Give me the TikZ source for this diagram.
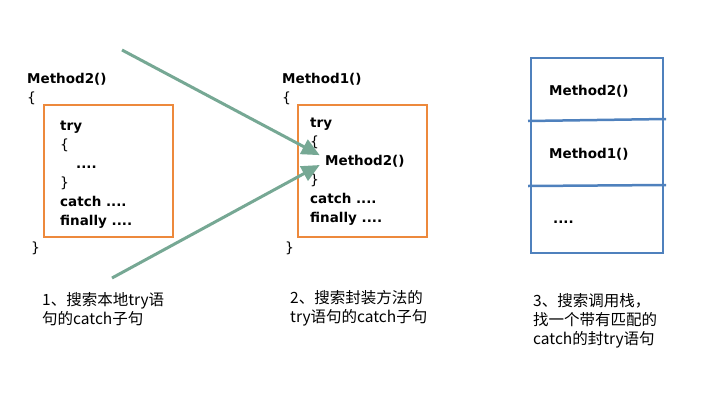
\documentclass[tikz,border=0pt]{standalone}
\usepackage{fontspec}
\setmainfont{DejaVu Sans}
\newfontfamily\cjk{Noto Sans CJK SC}
\usetikzlibrary{
  arrows.meta,
  calc,
  positioning
}
\definecolor{boxorange}{RGB}{237,137,60}
\definecolor{stackblue}{RGB}{79,129,189}
\definecolor{arrowgreen}{RGB}{118,168,148}

\begin{document}
\begin{tikzpicture}[x=1pt, y=-1pt, font=\fontsize{13.5}{16}\selectfont\bfseries,
  code/.style={anchor=base west, inner sep=0pt},
  brace/.style={anchor=base west, inner sep=0pt, font=\fontsize{14}{16}\selectfont\mdseries},
  note/.style={anchor=base west, inner sep=0pt, font=\cjk\mdseries\fontsize{15.5}{17}\selectfont},
  trybox/.style={draw=boxorange, line width=1.5pt},
  callarrow/.style={draw=arrowgreen, line width=3pt, -{Triangle[length=18pt,width=16pt]}, shorten >=6pt}]
  \useasboundingbox (0,0) rectangle (719,407);

  % Method2: local try block
  \node[code] (m2head) at (27,83) {Method2()};
  \node[brace] (m2open) at (27,102) {\{};
  \draw[trybox] (44,105) rectangle (173,237);
  \node[code] (try1) at (60,130) {try};
  \node[brace] (open1) at (60,149) {\{};
  \node[code] (dots1) at (76,168) {....};
  \node[brace] (close1) at (60,187) {\}};
  \node[code] (catch1) at (60,206) {catch ....};
  \node[code] (fin1) at (60,225) {finally ....};
  \node[brace] (m2close) at (31,252) {\}};

  % Method1: enclosing try block
  \node[code] (m1head) at (282,83) {Method1()};
  \node[brace] (m1open) at (282,102) {\{};
  \draw[trybox] (298,105) rectangle (427,237);
  \node[code] (try2) at (310,127) {try};
  \node[brace] (open2) at (310,146) {\{};
  \node[code] (m2call) at (325,165) {Method2()};
  \node[brace] (close2) at (310,184) {\}};
  \node[code] (catch2) at (310,203) {catch ....};
  \node[code] (fin2) at (310,222) {finally ....};
  \node[brace] (m1close) at (285,252) {\}};

  % Arrows into the call
  \coordinate (from1) at (122,50);
  \coordinate (from2) at (112,278);
  \draw[callarrow] (from1) -- (m2call.176);
  \draw[callarrow] (from2) -- (m2call.182);

  % Call stack
  \draw[stackblue, line width=1.5pt] (531,58) rectangle (663,253);
  \draw[stackblue, line width=2.5pt] (528,121) -- (666,119);
  \draw[stackblue, line width=2.5pt] (528,186) -- (666,185);
  \node[code] (frame2) at (549,95) {Method2()};
  \node[code] (frame1) at (549,158) {Method1()};
  \node[code] (frame0) at (553,223) {....};

  % Notes
  \node[note] (note1a) at (42,305) {1、搜索本地try语};
  \node[note] (note1b) at (42,324) {句的catch子句};
  \node[note] (note2a) at (290,303) {2、搜索封装方法的};
  \node[note] (note2b) at (290,322) {try语句的catch子句};
  \node[note] (note3a) at (533,306) {3、搜索调用栈，};
  \node[note] (note3b) at (533,325) {找一个带有匹配的};
  \node[note] (note3c) at (533,344) {catch的封try语句};
\end{tikzpicture}
\end{document}
